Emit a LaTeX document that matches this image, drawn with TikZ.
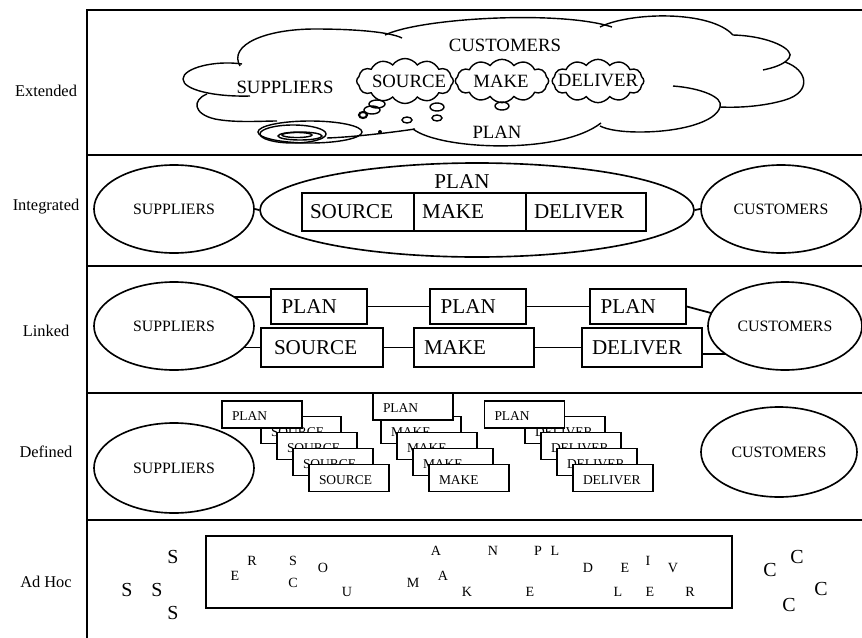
\documentclass[tikz,border=0pt]{standalone}
\usepackage{fontspec}
\setmainfont{Liberation Serif}
\usetikzlibrary{shapes.geometric,shapes.symbols}
\newcommand\myfs[1]{\fontsize{#1}{#1}\selectfont}
\begin{document}
\begin{tikzpicture}[x={(0.03cm,0)},y={(0,-0.03cm)},
 frame/.style={line width=1.8pt},
 rowlbl/.style={font=\myfs{14}},
 ell/.style={draw, ellipse, line width=1.4pt, inner sep=0pt, font=\myfs{13.5}},
 bigbox/.style={draw, line width=1.4pt, inner ysep=0pt, font=\myfs{18}, align=left},
 smallbox/.style={draw, fill=white, line width=1.5pt, minimum height=0.81cm, inner xsep=0.3cm, inner ysep=0pt, text width=1.8cm, align=left, font=\myfs{11.5}, text height=11pt, text depth=0pt},
 conn/.style={line width=1.5pt},
 cl/.style={line width=1.2pt},
 puff/.style={draw, cloud, cloud puffs=12, cloud puff arc=110, aspect=2, inner sep=0pt, line width=1.2pt},
 exttxt/.style={font=\myfs{16}},
 sl/.style={font=\myfs{12}, inner sep=0pt},
 bl/.style={font=\myfs{17}, inner sep=0pt}
]
\useasboundingbox (0,0) rectangle (862,637);
\clip (0,0) rectangle (862,637);
\fill[white] (0,0) rectangle (862,637);
% frame
\draw[frame] (87,660) -- (87,10) -- (880,10);
\foreach \yy in {155,266,393,520} \draw[frame] (87,\yy) -- (880,\yy);
% row labels
\node[rowlbl] (lext) at (46,91) {Extended};
\node[rowlbl] (lint) at (46,207) {Integrated};
\node[rowlbl] (llnk) at (46,331) {Linked};
\node[rowlbl] (ldef) at (46,452) {Defined};
\node[rowlbl] (ladh) at (46,582) {Ad Hoc};

% ---------------- Extended
% big cloud
\draw[cl] (242,64) .. controls (215,60) and (183,68) .. (183,79) .. controls (183,90) and (215,97) .. (250,96);
\draw[cl] (207,94) .. controls (192,100) and (193,114) .. (215,119) .. controls (235,123) and (262,121) .. (277,121);
\draw[cl] (240,66) .. controls (228,45) and (265,29) .. (315,29) .. controls (355,29) and (390,32) .. (402,38);
\draw[cl] (385,35) .. controls (420,18) and (560,10) .. (612,27);
\draw[cl] (600,27) .. controls (630,12) and (710,10) .. (733,35);
\draw[cl] (733,35) .. controls (770,36) and (796,50) .. (789,58) .. controls (784,65) and (772,68) .. (763,70);
\draw[cl] (785,62) .. controls (808,70) and (812,92) .. (785,100) .. controls (765,106) and (740,108) .. (720,107);
\draw[cl] (673,86) .. controls (700,88) and (724,97) .. (720,107) .. controls (716,122) and (680,132) .. (640,132) .. controls (622,132) and (608,130) .. (600,126);
\draw[cl] (413,129) .. controls (440,150) and (560,155) .. (601,123);
\draw[cl] (327,138) .. controls (355,137) and (395,132) .. (415,129);
% spiral
\draw[cl] (310,132) ellipse [x radius=52, y radius=11];
\draw[cl] (293,134) ellipse [x radius=33, y radius=9];
\draw[cl] (300,136) ellipse [x radius=22, y radius=4];
\draw[cl] (297,135) ellipse [x radius=15, y radius=2.5];
% thought bubbles
\draw[line width=1.8pt] (363,115) ellipse [x radius=4, y radius=3];
\draw[cl] (372,110) ellipse [x radius=8, y radius=4];
\draw[cl] (377,104) ellipse [x radius=8, y radius=4];
\draw[cl] (407,120) ellipse [x radius=5, y radius=3];
\draw[cl] (437,107) ellipse [x radius=7, y radius=4];
\draw[cl] (437,118) ellipse [x radius=5, y radius=3];
\fill (380,132) circle [radius=2];
% small clouds
\node[puff, minimum width=2.9cm, minimum height=1.35cm] (csrc) at (405,81) {};
\node[puff, minimum width=2.8cm, minimum height=1.3cm] (cmake) at (502,81) {};
\node[puff, minimum width=2.75cm, minimum height=1.3cm] (cdel) at (598,81) {};
\draw[cl] (502,106) ellipse [x radius=7, y radius=4];
% texts
\node[exttxt] (esup) at (285,87) {SUPPLIERS};
\node[exttxt] (ecust) at (505,45) {CUSTOMERS};
\node[exttxt] (esrc) at (409,81) {SOURCE};
\node[exttxt] (emake) at (501,81) {MAKE};
\node[exttxt] (edel) at (598,81) {DELIVER};
\node[exttxt] (eplan) at (497,132) {PLAN};

% ---------------- Integrated
\node[ell, minimum width=4.8cm, minimum height=2.64cm] (isup) at (174,209) {SUPPLIERS};
\node[draw, ellipse, line width=1.4pt, minimum width=13.02cm, minimum height=2.82cm, inner sep=0pt] (iplan) at (477,210) {};
\node[font=\myfs{18}] (iplantxt) at (462,182) {PLAN};
\node[bigbox, inner xsep=0.24cm, text width=2.88cm, minimum height=1.14cm] (isrc) at (358,212) {SOURCE};
\node[bigbox, inner xsep=0.24cm, text width=2.88cm, minimum height=1.14cm] (imake) at (470,212) {MAKE};
\node[bigbox, inner xsep=0.24cm, text width=3.12cm, minimum height=1.14cm] (idel) at (586,212) {DELIVER};
\node[ell, minimum width=4.8cm, minimum height=2.64cm] (icust) at (781,209) {CUSTOMERS};
\draw[conn] (isup.east) -- (iplan.west);
\draw[conn] (iplan.east) -- (icust.west);

% ---------------- Linked
\node[ell, minimum width=4.8cm, minimum height=2.64cm] (lsup) at (174,326) {SUPPLIERS};
\node[ell, minimum width=4.62cm, minimum height=2.64cm] (lcust) at (785,326) {CUSTOMERS};
\node[bigbox, inner xsep=0.32cm, text width=2.24cm, minimum height=1.05cm] (lp1) at (319,306.5) {PLAN};
\node[bigbox, inner xsep=0.32cm, text width=2.24cm, minimum height=1.05cm] (lp2) at (478,306.5) {PLAN};
\node[bigbox, inner xsep=0.32cm, text width=2.24cm, minimum height=1.05cm] (lp3) at (638,306.5) {PLAN};
\node[bigbox, inner xsep=0.39cm, text width=2.88cm, minimum height=1.17cm] (lsrc) at (322,347.5) {SOURCE};
\node[bigbox, inner xsep=0.3cm, text width=3.0cm, minimum height=1.17cm] (lmake) at (474,347.5) {MAKE};
\node[bigbox, inner xsep=0.3cm, text width=3.0cm, minimum height=1.17cm] (ldel) at (642,347.5) {DELIVER};
\coordinate (la) at (234,297);
\coordinate (lb) at (243.8,347.5);
\coordinate (lc) at (711,313);
\coordinate (ld) at (725.6,354);
\draw[conn] (la) -- (lp1.west |- la);
\draw[conn] (lp1.east) -- (lp2.west);
\draw[conn] (lp2.east) -- (lp3.west);
\draw[conn] (lp3.east) -- (lc);
\draw[conn] (lb) -- (lsrc.west);
\draw[conn] (lsrc.east) -- (lmake.west);
\draw[conn] (lmake.east) -- (ldel.west);
\draw[conn] (ldel.east |- ld) -- (ld);

% ---------------- Defined
\node[ell, minimum width=4.8cm, minimum height=2.7cm] (dsup) at (174,468) {SUPPLIERS};
\node[ell, minimum width=4.68cm, minimum height=2.7cm] (dcust) at (779,452) {CUSTOMERS};
\foreach \i in {0,...,3} \node[smallbox] (ds\i) at ({301+16*\i},{430+16*\i}) {SOURCE};
\node[smallbox] (dsp) at (262,414.5) {PLAN};
\foreach \i in {0,...,3} \node[smallbox] (dm\i) at ({421+16*\i},{430+16*\i}) {MAKE};
\node[smallbox] (dmp) at (413,406.5) {PLAN};
\foreach \i in {0,...,3} \node[smallbox] (dd\i) at ({565+16*\i},{430+16*\i}) {DELIVER};
\node[smallbox] (ddp) at (524.5,414.5) {PLAN};

% ---------------- Ad Hoc
\node[draw, line width=1.8pt, minimum width=15.78cm, minimum height=2.16cm, inner sep=0pt] (adbox) at (469,572) {};
\node[bl] (s1) at (173,557) {S};
\node[bl] (s2) at (127,590) {S};
\node[bl] (s3) at (157,590) {S};
\node[bl] (s4) at (173,613) {S};
\node[bl] (c1) at (770,570) {C};
\node[bl] (c2) at (797,557) {C};
\node[bl] (c3) at (789,605) {C};
\node[bl] (c4) at (821,589) {C};
\node[sl] (a1) at (235,576) {E};
\node[sl] (a2) at (252,561) {R};
\node[sl] (a3) at (293,561) {S};
\node[sl] (a4) at (323,568) {O};
\node[sl] (a5) at (293,583) {C};
\node[sl] (a6) at (347,592) {U};
\node[sl] (a7) at (436,551) {A};
\node[sl] (a8) at (413,583) {M};
\node[sl] (a9) at (443,576) {A};
\node[sl] (a10) at (467,592) {K};
\node[sl] (a11) at (493,551) {N};
\node[sl] (a12) at (538,551) {P};
\node[sl] (a13) at (555,551) {L};
\node[sl] (a14) at (588,568) {D};
\node[sl] (a15) at (625,568) {E};
\node[sl] (a16) at (648,561) {I};
\node[sl] (a17) at (673,568) {V};
\node[sl] (a18) at (530,592) {E};
\node[sl] (a19) at (618,592) {L};
\node[sl] (a20) at (650,592) {E};
\node[sl] (a21) at (690,592) {R};
\end{tikzpicture}
\end{document}
